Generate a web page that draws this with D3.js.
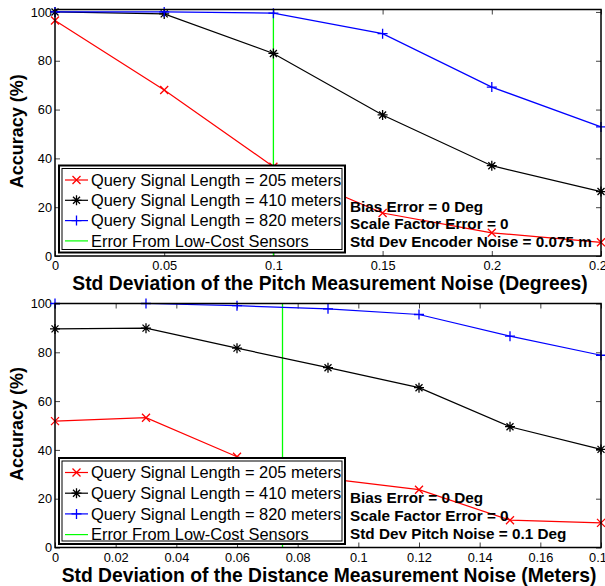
<!DOCTYPE html>
<html>
<head>
<meta charset="utf-8">
<script src="https://cdn.jsdelivr.net/npm/d3@7"></script>
<style>
  body { margin: 0; background: #fff; }
  svg { display: block; font-family: "Liberation Sans", Arial, sans-serif; }
  .tick text { font-size: 12.8px; fill: #000; }
  .tick line { stroke: #444; }
</style>
</head>
<body>
<div id="chart"></div>
<script>
// pitch noise sweep (top panel)
var pitchX = [0, 0.05, 0.1, 0.15, 0.2, 0.25];
var pitch205 = [96.5, 68, 36.6, 17.6, 9.5, 5.6];
var pitch410 = [100, 99.2, 83, 57.8, 37, 26.4];
var pitch820 = [100, 100, 99.5, 91.1, 69.2, 52.9];
var pitchTicks = [0, 0.05, 0.1, 0.15, 0.2, 0.25];
var pitchSensor = 0.1;
var pitchNotes = ["Bias Error = 0 Deg", "Scale Factor Error = 0", "Std Dev Encoder Noise = 0.075 m"];

// distance noise sweep (bottom panel)
var distX = [0, 0.03, 0.06, 0.09, 0.12, 0.15, 0.18];
var dist205 = [51.8, 53.2, 37.2, 28.2, 23.7, 11.2, 10.1];
var dist410 = [89.6, 89.9, 81.7, 73.7, 65.5, 49.5, 40.2];
var dist820 = [100, 100, 99.1, 97.8, 95.5, 86.6, 78.8];
var distTicks = [0, 0.02, 0.04, 0.06, 0.08, 0.1, 0.12, 0.14, 0.16, 0.18];
var distSensor = 0.075;
var distNotes = ["Bias Error = 0 Deg", "Scale Factor Error = 0", "Std Dev Pitch Noise = 0.1 Deg"];

var yTicks = [0, 20, 40, 60, 80, 100];
var seriesNames = ["Query Signal Length = 205 meters", "Query Signal Length = 410 meters",
                   "Query Signal Length = 820 meters", "Error From Low-Cost Sensors"];
var seriesColors = ["#ff0000", "#000000", "#0000ff", "#00ff00"];
var seriesMarkers = ["x", "star", "plus", null];

var svg = d3.select("#chart").append("svg")
    .attr("width", 605)
    .attr("height", 586);

function marker(g, type, cx, cy, color) {
  var p;
  if (type == "x") {
    p = "M-4,-4L4,4M-4,4L4,-4";
  } else if (type == "plus") {
    p = "M-5,0L5,0M0,-5L0,5";
  } else {
    p = "M-5,0L5,0M0,-5L0,5M-3.5,-3.5L3.5,3.5M-3.5,3.5L3.5,-3.5";
  }
  g.append("path")
    .attr("d", p)
    .attr("transform", "translate(" + cx + "," + cy + ")")
    .attr("stroke", color)
    .attr("stroke-width", 1.3)
    .attr("fill", "none");
}

function drawPanel(opt) {
  var x = d3.scaleLinear().domain(opt.xDomain).range([opt.left, opt.right]);
  var y = d3.scaleLinear().domain(opt.yDomain).range([opt.bottom, opt.top]);
  var fmt = function(d) { return String(+d.toFixed(3)); };

  var g = svg.append("g");

  // inward ticks on all four sides
  g.append("g")
    .attr("transform", "translate(0," + opt.bottom + ")")
    .call(d3.axisBottom(x).tickValues(opt.xTicks).tickFormat(fmt).tickSize(-5).tickSizeOuter(0).tickPadding(5))
    .call(function(a) { a.select(".domain").remove(); });
  g.append("g")
    .attr("transform", "translate(0," + opt.top + ")")
    .call(d3.axisTop(x).tickValues(opt.xTicks).tickFormat("").tickSize(-5).tickSizeOuter(0))
    .call(function(a) { a.select(".domain").remove(); });
  g.append("g")
    .attr("transform", "translate(" + opt.left + ",0)")
    .call(d3.axisLeft(y).tickValues(yTicks).tickSize(-5).tickSizeOuter(0).tickPadding(3))
    .call(function(a) { a.select(".domain").remove(); });
  g.append("g")
    .attr("transform", "translate(" + opt.right + ",0)")
    .call(d3.axisRight(y).tickValues(yTicks).tickFormat("").tickSize(-5).tickSizeOuter(0))
    .call(function(a) { a.select(".domain").remove(); });

  // sensor line
  g.append("line")
    .attr("x1", x(opt.sensor)).attr("x2", x(opt.sensor))
    .attr("y1", y(0)).attr("y2", y(100))
    .attr("stroke", seriesColors[3])
    .attr("stroke-width", 1.3);

  var line = d3.line()
    .x(function(d) { return x(d[0]); })
    .y(function(d) { return y(d[1]); });

  opt.series.forEach(function(vals, i) {
    var pts = opt.xs.map(function(v, j) { return [v, vals[j]]; });
    g.append("path")
      .datum(pts)
      .attr("d", line)
      .attr("fill", "none")
      .attr("stroke", seriesColors[i])
      .attr("stroke-width", 1.2);
    pts.forEach(function(p) {
      marker(g, seriesMarkers[i], x(p[0]), y(p[1]), seriesColors[i]);
    });
  });

  // notes
  opt.notes.forEach(function(t, i) {
    g.append("text")
      .attr("x", opt.noteX)
      .attr("y", opt.noteY + i * opt.noteStep)
      .attr("font-size", 15.3)
      .attr("font-weight", "bold")
      .text(t);
  });

  // legend
  var lg = g.append("g");
  lg.append("rect")
    .attr("x", opt.legX).attr("y", opt.legY)
    .attr("width", 286).attr("height", opt.legH)
    .attr("fill", "#fff")
    .attr("stroke", "#000").attr("stroke-width", 2);
  lg.append("rect")
    .attr("x", opt.legX + 3).attr("y", opt.legY + 3)
    .attr("width", 280).attr("height", opt.legH - 6)
    .attr("fill", "none")
    .attr("stroke", "#000").attr("stroke-width", 1);
  seriesNames.forEach(function(name, i) {
    var cy = opt.legY + 14.5 + i * opt.legStep;
    lg.append("line")
      .attr("x1", opt.legX + 6).attr("x2", opt.legX + 29)
      .attr("y1", cy).attr("y2", cy)
      .attr("stroke", seriesColors[i])
      .attr("stroke-width", 1.2);
    if (seriesMarkers[i]) marker(lg, seriesMarkers[i], opt.legX + 17.5, cy, seriesColors[i]);
    lg.append("text")
      .attr("x", opt.legX + 32)
      .attr("y", cy)
      .attr("dy", "0.35em")
      .attr("font-size", 16.4)
      .text(name);
  });

  // frame
  g.append("rect")
    .attr("x", opt.left).attr("y", opt.top)
    .attr("width", opt.right - opt.left).attr("height", opt.bottom - opt.top)
    .attr("fill", "none")
    .attr("stroke", "#000")
    .attr("stroke-width", 1.5);

  // axis titles
  g.append("text")
    .attr("transform", "translate(" + 23 + "," + ((opt.top + opt.bottom) / 2 - 1.5) + ") rotate(-90)")
    .attr("text-anchor", "middle")
    .attr("font-size", 18)
    .attr("font-weight", "bold")
    .text("Accuracy (%)");
  g.append("text")
    .attr("x", opt.xLabelX)
    .attr("y", opt.bottom + opt.xLabelDy)
    .attr("text-anchor", "middle")
    .attr("font-size", 19.3)
    .attr("font-weight", "bold")
    .text(opt.xLabel);
}

drawPanel({
  left: 55, right: 601, top: 9.5, bottom: 256,
  xDomain: [0, 0.25], yDomain: [0, 101],
  xTicks: pitchTicks, xs: pitchX,
  series: [pitch205, pitch410, pitch820],
  sensor: pitchSensor,
  notes: pitchNotes, noteX: 350, noteY: 212, noteStep: 17.3,
  legX: 59, legY: 165.5, legH: 87, legStep: 20.3,
  xLabel: "Std Deviation of the Pitch Measurement Noise (Degrees)", xLabelX: 330, xLabelDy: 33.5
});

drawPanel({
  left: 55, right: 601, top: 303.5, bottom: 547.5,
  xDomain: [0, 0.18], yDomain: [0, 100],
  xTicks: distTicks, xs: distX,
  series: [dist205, dist410, dist820],
  sensor: distSensor,
  notes: distNotes, noteX: 350, noteY: 502.5, noteStep: 18,
  legX: 59, legY: 458, legH: 86, legStep: 20.7,
  xLabel: "Std Deviation of the Distance Measurement Noise (Meters)", xLabelX: 329, xLabelDy: 34
});
</script>
</body>
</html>
